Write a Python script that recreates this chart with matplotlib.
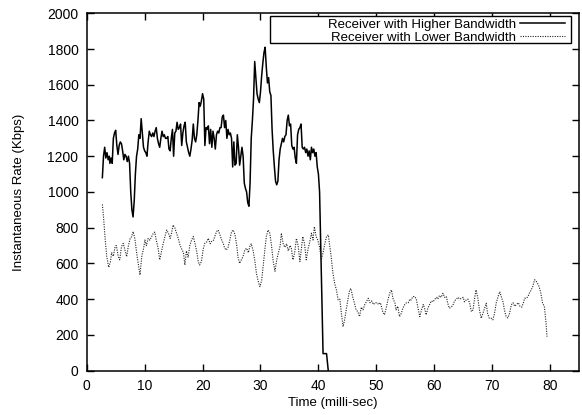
import matplotlib
matplotlib.use("Agg")
import matplotlib.pyplot as plt
from matplotlib.patches import Rectangle

# Receiver with higher bandwidth (time in ms, rate in Kbps)
high_t = [2.7, 2.9, 3.1, 3.3, 3.5, 3.7, 3.9, 4.0, 4.2, 4.4, 4.6, 4.8, 5.0, 5.2, 5.4,
          5.6, 5.8, 6.0, 6.2, 6.4, 6.6, 6.8, 7.0, 7.2, 7.4, 7.6, 7.8, 8.0, 8.2, 8.4,
          8.6, 8.8, 9.0, 9.2, 9.4, 9.6, 9.8, 10.0, 10.2, 10.4, 10.6, 10.8, 11.0, 11.2, 11.4,
          11.6, 11.8, 12.0, 12.2, 12.4, 12.6, 12.8, 13.0, 13.2, 13.4, 13.6, 13.8, 14.0, 14.2, 14.4,
          14.6, 14.8, 15.0, 15.2, 15.4, 15.6, 15.8, 16.0, 16.2, 16.4, 16.6, 16.8, 17.0, 17.2, 17.4,
          17.6, 17.8, 18.0, 18.2, 18.4, 18.6, 18.8, 19.0, 19.2, 19.4, 19.6, 19.8, 20.0, 20.2, 20.4,
          20.6, 20.8, 21.0, 21.2, 21.4, 21.6, 21.8, 22.0, 22.2, 22.4, 22.6, 22.8, 23.0, 23.2, 23.4,
          23.6, 23.8, 24.0, 24.2, 24.4, 24.6, 24.8, 25.0, 25.2, 25.4, 25.6, 25.8, 26.0, 26.2, 26.4,
          26.6, 26.8, 27.0, 27.2, 27.4, 27.6, 27.8, 28.0, 28.2, 28.4, 28.6, 28.8, 29.0, 29.2, 29.4,
          29.6, 29.8, 30.0, 30.2, 30.4, 30.6, 30.8, 31.0, 31.2, 31.4, 31.6, 31.8, 32.0, 32.2, 32.4,
          32.6, 32.8, 33.0, 33.2, 33.4, 33.6, 33.8, 34.0, 34.2, 34.4, 34.6, 34.8, 35.0, 35.2, 35.4,
          35.6, 35.8, 36.0, 36.2, 36.4, 36.6, 36.8, 37.0, 37.2, 37.4, 37.6, 37.8, 38.0, 38.2, 38.4,
          38.6, 38.8, 39.0, 39.2, 39.4, 39.6, 39.8, 40.0, 40.2, 40.5, 40.8, 41.0, 41.4, 41.7]
high_rate = [1080, 1200, 1250, 1190, 1220, 1180, 1200, 1160, 1190, 1160, 1300, 1330, 1345, 1260, 1210,
             1260, 1280, 1270, 1230, 1180, 1210, 1200, 1170, 1200, 1160, 1000, 900, 860, 950, 1100,
             1200, 1240, 1320, 1300, 1410, 1330, 1250, 1230, 1220, 1200, 1280, 1340, 1320, 1310, 1330,
             1310, 1340, 1360, 1300, 1270, 1250, 1300, 1340, 1310, 1320, 1300, 1300, 1310, 1240, 1230,
             1300, 1350, 1200, 1330, 1340, 1390, 1350, 1360, 1380, 1260, 1330, 1370, 1390, 1280, 1250,
             1220, 1200, 1240, 1290, 1380, 1300, 1280, 1320, 1400, 1500, 1480, 1510, 1550, 1520, 1260,
             1360, 1350, 1370, 1270, 1350, 1250, 1340, 1300, 1240, 1320, 1340, 1330, 1360, 1360, 1420,
             1430, 1360, 1400, 1300, 1350, 1320, 1330, 1300, 1140, 1280, 1150, 1160, 1320, 1250, 1150,
             1200, 1250, 1200, 1050, 1020, 1000, 940, 920, 1050, 1300, 1400, 1520, 1730, 1640, 1550,
             1520, 1500, 1560, 1650, 1720, 1780, 1810, 1700, 1610, 1640, 1560, 1540, 1350, 1230, 1140,
             1060, 1040, 1060, 1180, 1240, 1270, 1300, 1280, 1310, 1320, 1400, 1430, 1370, 1380, 1260,
             1240, 1250, 1190, 1160, 1320, 1350, 1360, 1380, 1250, 1240, 1250, 1220, 1240, 1200, 1230,
             1180, 1250, 1220, 1240, 1200, 1220, 1140, 1100, 1000, 550, 95, 95, 95, 0]

# Receiver with lower bandwidth
low_t = [2.7, 2.9, 3.2, 3.45, 3.8, 4.1, 4.3, 4.6, 4.9, 5.1, 5.45, 5.7, 6.0, 6.3, 6.6,
         6.9, 7.2, 7.5, 7.75, 8.0, 8.3, 8.7, 9.2, 9.5, 9.8, 10.05, 10.3, 10.6, 10.9, 11.2,
         11.5, 11.75, 12.0, 12.3, 12.6, 12.9, 13.2, 13.5, 13.8, 14.1, 14.4, 14.65, 14.9, 15.2, 15.5,
         15.8, 16.1, 16.4, 16.7, 16.95, 17.2, 17.5, 17.8, 18.1, 18.4, 18.7, 19.0, 19.25, 19.5, 19.8,
         20.1, 20.4, 20.7, 21.0, 21.3, 21.6, 21.9, 22.1, 22.4, 22.7, 23.0, 23.3, 23.6, 23.8, 24.1,
         24.4, 24.7, 25.0, 25.3, 25.6, 25.9, 26.1, 26.4, 26.7, 27.0, 27.3, 27.6, 27.9, 28.15, 28.4,
         28.7, 29.0, 29.3, 29.6, 29.9, 30.2, 30.5, 30.8, 31.0, 31.3, 31.6, 31.9, 32.2, 32.5, 32.8,
         33.1, 33.4, 33.6, 33.9, 34.2, 34.5, 34.8, 35.1, 35.3, 35.6, 35.9, 36.2, 36.5, 36.8, 37.0,
         37.3, 37.6, 37.9, 38.2, 38.5, 38.8, 39.07, 39.3, 39.6, 39.9, 40.2, 40.5, 40.8, 41.1, 41.4,
         41.7, 41.9, 42.2, 42.5, 42.8, 43.1, 43.4, 43.7, 43.96, 44.25, 44.5, 44.8, 45.1, 45.4, 45.6,
         45.9, 46.2, 46.5, 46.8, 47.1, 47.4, 47.7, 48.0, 48.3, 48.6, 48.9, 49.2, 49.5, 49.8, 50.1,
         50.4, 50.7, 51.1, 51.4, 51.7, 52.0, 52.3, 52.6, 52.9, 53.2, 53.4, 53.7, 54.0, 54.3, 54.6,
         54.9, 55.2, 55.5, 55.8, 56.0, 56.3, 56.6, 56.9, 57.2, 57.5, 57.8, 58.1, 58.4, 58.6, 58.9,
         59.2, 59.5, 59.8, 60.1, 60.4, 60.6, 60.9, 61.2, 61.5, 61.8, 62.1, 62.3, 62.6, 62.9, 63.2,
         63.5, 63.8, 64.1, 64.4, 64.7, 65.0, 65.2, 65.5, 65.8, 66.1, 66.4, 66.7, 66.9, 67.2, 67.5,
         67.8, 68.1, 68.4, 68.7, 68.97, 69.2, 69.5, 69.8, 70.1, 70.4, 70.7, 71.0, 71.3, 71.6, 71.9,
         72.1, 72.4, 72.7, 73.0, 73.3, 73.6, 73.9, 74.2, 74.5, 74.8, 75.1, 75.4, 75.6, 75.9, 76.2,
         76.4, 76.7, 77.0, 77.3, 77.5, 77.8, 78.1, 78.4, 78.7, 79.0, 79.3, 79.45]
low_rate = [930, 860, 730, 640, 578, 610, 660, 640, 694, 700, 638, 620, 694, 712, 675,
            638, 700, 740, 750, 778, 740, 640, 535, 640, 680, 731, 700, 740, 730, 750,
            769, 775, 730, 690, 620, 665, 710, 750, 787, 770, 740, 770, 815, 800, 770,
            740, 703, 680, 660, 591, 670, 635, 700, 731, 750, 710, 665, 610, 591, 610,
            680, 713, 720, 740, 710, 725, 730, 750, 778, 787, 760, 731, 710, 685, 675,
            690, 730, 778, 787, 760, 700, 638, 600, 620, 640, 675, 685, 660, 694, 710,
            675, 620, 545, 500, 470, 505, 600, 690, 750, 787, 770, 700, 610, 556, 620,
            660, 700, 769, 712, 690, 710, 670, 700, 690, 620, 660, 740, 700, 610, 665,
            750, 710, 620, 680, 720, 769, 731, 806, 750, 730, 690, 620, 660, 710, 750,
            760, 710, 638, 546, 489, 452, 396, 400, 321, 246, 280, 340, 400, 452, 460,
            415, 380, 340, 330, 302, 355, 340, 370, 386, 405, 380, 390, 370, 380, 380,
            370, 380, 330, 312, 350, 396, 433, 452, 400, 380, 340, 360, 302, 320, 350,
            370, 380, 380, 400, 395, 414, 415, 400, 349, 302, 340, 370, 340, 312, 350,
            370, 390, 385, 400, 410, 400, 420, 410, 433, 410, 415, 380, 349, 355, 365,
            390, 400, 410, 400, 405, 410, 385, 395, 400, 380, 330, 340, 390, 452, 410,
            340, 293, 320, 350, 377, 320, 293, 293, 284, 320, 380, 410, 442, 410, 380,
            340, 302, 295, 320, 368, 380, 360, 370, 380, 360, 355, 380, 405, 405, 415,
            433, 450, 470, 508, 505, 490, 470, 433, 377, 360, 265, 190]

x_ticks = [0, 10, 20, 30, 40, 50, 60, 70, 80]
y_ticks = [0, 200, 400, 600, 800, 1000, 1200, 1400, 1600, 1800, 2000]

plt.rcParams['font.family'] = ['Liberation Sans', 'DejaVu Sans']

fig = plt.figure(figsize=(5.82, 4.15), dpi=100)
ax = fig.add_axes([0.149, 0.107, 0.846, 0.861])

ax.plot(high_t, high_rate, color='black', lw=1.1, linestyle='-',
        label='Receiver with Higher Bandwidth')
ax.plot(low_t, low_rate, color='#222222', lw=0.8, linestyle=(0, (1, 1.2)),
        label='Receiver with Lower Bandwidth')

ax.set_xlim(0, 85)
ax.set_ylim(0, 2000)
ax.set_xticks(x_ticks)
ax.set_yticks(y_ticks)
ax.tick_params(direction='in', length=5, width=1, top=True, right=True,
               labelsize=10, colors='black', pad=6)
for s in ax.spines.values():
    s.set_linewidth(1.1)

ax.set_xlabel('Time (milli-sec)', fontsize=9.5, labelpad=3)
ax.set_ylabel('Instantaneous Rate (Kbps)', fontsize=9.5, labelpad=16)

# gnuplot-style key: wide box, right-aligned labels with sample after the text
ax.add_patch(Rectangle((0.372, 0.916), 0.612, 0.077, transform=ax.transAxes,
                       facecolor='white', edgecolor='black', lw=1.0, zorder=4))
leg = ax.legend(loc='upper right', bbox_to_anchor=(0.972, 0.985), markerfirst=False,
                frameon=False, fontsize=9.5, handlelength=3.4, handletextpad=0.3,
                borderpad=0.0, labelspacing=0.06, borderaxespad=0.0)
leg.set_zorder(5)

fig.savefig('out.png', dpi=100)
